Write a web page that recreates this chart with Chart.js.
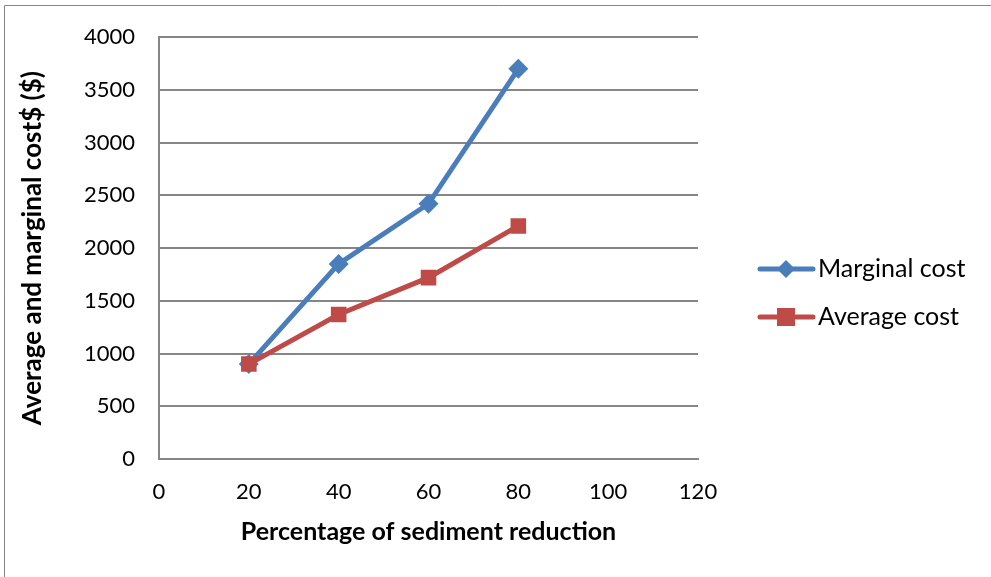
<!DOCTYPE html>
<html>
<head>
<meta charset="utf-8">
<script src="https://cdn.jsdelivr.net/npm/chart.js@4/dist/chart.umd.min.js"></script>
<style>
html,body{margin:0;padding:0;background:#fff;}
#wrap{width:991px;height:577px;position:relative;}
</style>
</head>
<body>
<div id="wrap"><canvas id="c" width="991" height="577"></canvas></div>
<script>
const xValues = [20, 40, 60, 80];
const marginalCost = [900, 1850, 2420, 3700];
const averageCost = [900, 1370, 1720, 2210];
const seriesNames = ["Marginal cost", "Average cost"];
const xTitle = "Percentage of sediment reduction";
const yTitle = "Average and marginal cost$ ($)";

const FONT = "Lato, 'Open Sans', sans-serif";
const BLUE = "#4A7EBB";
const RED = "#BE4B48";

const borderPlugin = {
  id: 'outerBorder',
  afterDraw(chart) {
    const ctx = chart.ctx;
    ctx.save();
    ctx.strokeStyle = '#868686';
    ctx.lineWidth = 1;
    ctx.beginPath();
    ctx.moveTo(4.5, 600);
    ctx.lineTo(4.5, 5.5);
    ctx.lineTo(1000, 5.5);
    ctx.stroke();
    ctx.restore();
  }
};

const legendPlugin = {
  id: 'customLegend',
  afterDraw(chart) {
    const ctx = chart.ctx;
    const items = [
      {name: seriesNames[0], color: BLUE, shape: 'diamond', y: 269},
      {name: seriesNames[1], color: RED, shape: 'square', y: 317}
    ];
    ctx.save();
    items.forEach(it => {
      ctx.strokeStyle = it.color;
      ctx.lineWidth = 5;
      ctx.lineCap = 'round';
      ctx.beginPath();
      ctx.moveTo(760, it.y);
      ctx.lineTo(813, it.y);
      ctx.stroke();
      ctx.fillStyle = it.color;
      const cx = 786;
      if (it.shape === 'diamond') {
        ctx.beginPath();
        ctx.moveTo(cx, it.y - 9);
        ctx.lineTo(cx + 9, it.y);
        ctx.lineTo(cx, it.y + 9);
        ctx.lineTo(cx - 9, it.y);
        ctx.closePath();
        ctx.fill();
      } else {
        ctx.fillRect(cx - 9, it.y - 9, 18, 18);
      }
      ctx.fillStyle = '#000';
      ctx.font = '25px ' + FONT;
      ctx.textBaseline = 'middle';
      ctx.textAlign = 'left';
      ctx.fillText(it.name, 818, it.y);
    });
    ctx.restore();
  }
};

new Chart(document.getElementById('c'), {
  type: 'line',
  data: {
    datasets: [
      {
        label: seriesNames[0],
        data: xValues.map((x, i) => ({x: x, y: marginalCost[i]})),
        borderColor: BLUE,
        backgroundColor: BLUE,
        borderWidth: 5,
        pointStyle: 'rectRot',
        pointRadius: 10,
        pointHoverRadius: 10,
        pointBorderWidth: 0,
        tension: 0,
        order: 1
      },
      {
        label: seriesNames[1],
        data: xValues.map((x, i) => ({x: x, y: averageCost[i]})),
        borderColor: RED,
        backgroundColor: RED,
        borderWidth: 5,
        pointStyle: 'rect',
        pointRadius: 11,
        pointHoverRadius: 11,
        pointBorderWidth: 0,
        tension: 0,
        order: 0
      }
    ]
  },
  options: {
    responsive: false,
    animation: false,
    devicePixelRatio: 1,
    layout: {padding: {left: 0, top: 35, right: 293, bottom: 0}},
    plugins: {legend: {display: false}, tooltip: {enabled: false}},
    scales: {
      x: {
        type: 'linear',
        min: 0, max: 120,
        ticks: {stepSize: 20, color: '#000', font: {family: FONT, size: 22}, padding: 20,
                callback: v => String(v)},
        grid: {display: false, drawTicks: false},
        border: {display: true, color: '#868686', width: 2},
        title: {display: true, text: xTitle, color: '#000', font: {family: FONT, size: 25, weight: 'bold'}, padding: {top: 0, bottom: 30}},
        afterFit(s) { s.height = 118; }
      },
      y: {
        min: 0, max: 4000,
        ticks: {stepSize: 500, color: '#000', font: {family: FONT, size: 22}, padding: 24,
                callback: v => String(v)},
        grid: {color: '#868686', lineWidth: 2, drawTicks: false},
        border: {display: true, color: '#868686', width: 2},
        title: {display: true, text: yTitle, color: '#000', font: {family: FONT, size: 26, weight: 'bold'}, padding: {top: 17, bottom: 0}},
        afterFit(s) { s.width = 159; }
      }
    }
  },
  plugins: [borderPlugin, legendPlugin]
});
</script>
</body>
</html>
